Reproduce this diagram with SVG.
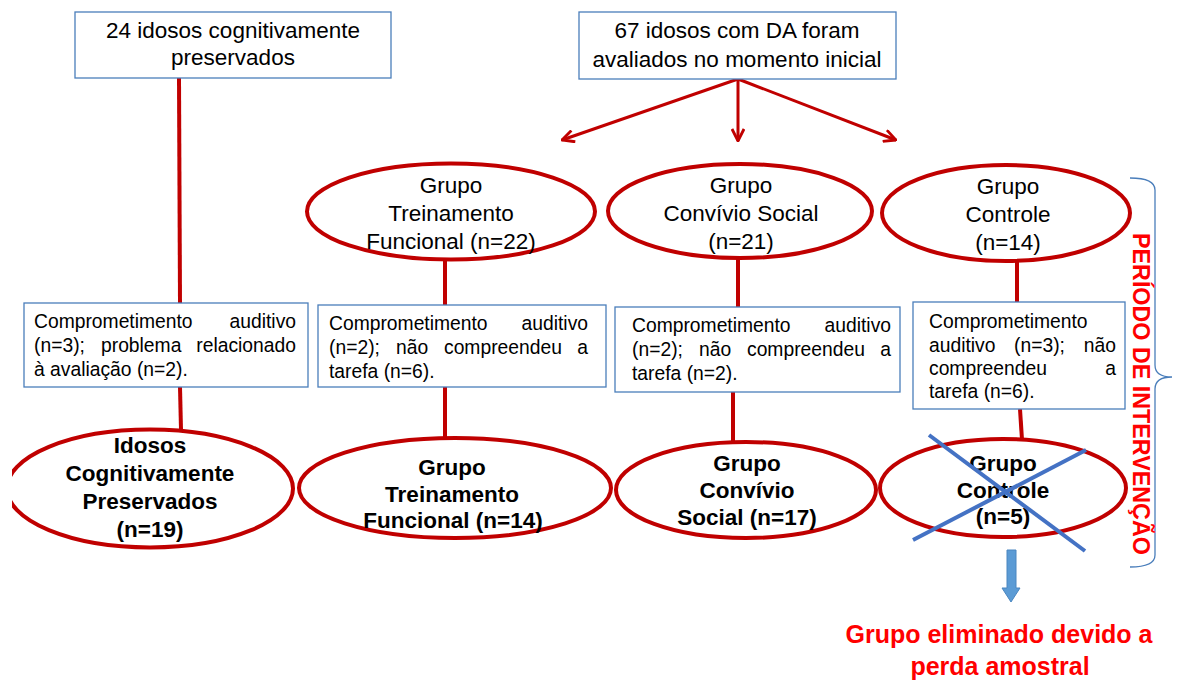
<svg xmlns="http://www.w3.org/2000/svg" width="1177" height="684" viewBox="0 0 1177 684">
<defs>
<style>
text{font-family:"Liberation Sans",Arial,sans-serif;fill:#000}
.box{fill:#fff;stroke:#4A7EBB;stroke-width:1.3}
.ell{fill:#fff;stroke:#C00000;stroke-width:4}
.con{stroke:#C00000;stroke-width:4;fill:none}
.arr{stroke:#C00000;stroke-width:3;fill:none}
.t22{font-size:22.5px}
.b22{font-size:22.5px;font-weight:bold}
.s19{font-size:19.3px}
.mid{text-anchor:middle}
.end{text-anchor:end}
.red{fill:#FF0000;font-weight:bold}
</style>
<marker id="ah" viewBox="0 0 14 14" refX="13" refY="7" markerWidth="14" markerHeight="14" markerUnits="userSpaceOnUse" orient="auto">
<path d="M1,1 L13,7 L1,13" fill="none" stroke="#C00000" stroke-width="2.8"/>
</marker>
<clipPath id="clipL"><rect x="12" y="0" width="1165" height="684"/></clipPath>
</defs>
<rect width="1177" height="684" fill="#fff"/>

<g id="connectors">
<line class="con" x1="179" y1="78" x2="180" y2="303"/>
<line class="con" x1="180" y1="387" x2="181" y2="430"/>
<line class="con" x1="445" y1="258" x2="445" y2="305"/>
<line class="con" x1="445" y1="387" x2="445" y2="438"/>
<line class="con" x1="738" y1="256" x2="738" y2="307"/>
<line class="con" x1="733" y1="392" x2="733" y2="443"/>
<line class="con" x1="1017" y1="260" x2="1017" y2="302"/>
<line class="con" x1="1020" y1="409" x2="1022" y2="440"/>
<line class="arr" x1="738" y1="79" x2="562" y2="140" marker-end="url(#ah)"/>
<line class="arr" x1="738" y1="79" x2="738" y2="141" marker-end="url(#ah)"/>
<line class="arr" x1="738" y1="79" x2="896" y2="140" marker-end="url(#ah)"/>
</g>

<g id="box-preservados">
<rect class="box" x="75" y="12" width="316" height="66"/>
<text class="t22 mid" x="233" y="38">24 idosos cognitivamente</text>
<text class="t22 mid" x="233" y="65">preservados</text>
</g>

<g id="box-da">
<rect class="box" x="579" y="12" width="317" height="67"/>
<text class="t22 mid" x="737" y="38">67 idosos com DA foram</text>
<text class="t22 mid" x="737" y="67">avaliados no momento inicial</text>
</g>

<g id="ell-treinamento">
<ellipse class="ell" cx="451" cy="211.5" rx="144" ry="48"/>
<text class="t22 mid" x="451" y="193">Grupo</text>
<text class="t22 mid" x="451" y="221">Treinamento</text>
<text class="t22 mid" x="451" y="249">Funcional (n=22)</text>
</g>

<g id="ell-convivio">
<ellipse class="ell" cx="740" cy="211" rx="132" ry="47"/>
<text class="t22 mid" x="741" y="193">Grupo</text>
<text class="t22 mid" x="741" y="221">Convívio Social</text>
<text class="t22 mid" x="741" y="249">(n=21)</text>
</g>

<g id="ell-controle">
<ellipse class="ell" cx="1006" cy="213" rx="124" ry="48"/>
<text class="t22 mid" x="1008" y="194">Grupo</text>
<text class="t22 mid" x="1008" y="222">Controle</text>
<text class="t22 mid" x="1008" y="250">(n=14)</text>
</g>

<g id="box-exc-preservados">
<rect class="box" x="24" y="303" width="284" height="84"/>
<text class="s19" x="34" y="328">Comprometimento</text>
<text class="s19 end" x="296" y="328">auditivo</text>
<text class="s19" x="34" y="352">(n=3);</text>
<text class="s19" x="101" y="352">problema</text>
<text class="s19 end" x="296" y="352">relacionado</text>
<text class="s19" x="34" y="376">à avaliação (n=2).</text>
</g>

<g id="box-exc-treinamento">
<rect class="box" x="318" y="305" width="288" height="82"/>
<text class="s19" x="329" y="330">Comprometimento</text>
<text class="s19 end" x="588" y="330">auditivo</text>
<text class="s19" x="329" y="354">(n=2);</text>
<text class="s19" x="396" y="354">não</text>
<text class="s19" x="444" y="354">compreendeu</text>
<text class="s19 end" x="588" y="354">a</text>
<text class="s19" x="329" y="378">tarefa (n=6).</text>
</g>

<g id="box-exc-convivio">
<rect class="box" x="615" y="307" width="285" height="85"/>
<text class="s19" x="632" y="332">Comprometimento</text>
<text class="s19 end" x="891" y="332">auditivo</text>
<text class="s19" x="632" y="356">(n=2);</text>
<text class="s19" x="699" y="356">não</text>
<text class="s19" x="747" y="356">compreendeu</text>
<text class="s19 end" x="891" y="356">a</text>
<text class="s19" x="632" y="380">tarefa (n=2).</text>
</g>

<g id="box-exc-controle">
<rect class="box" x="913" y="302" width="212" height="107"/>
<text class="s19" x="929" y="328">Comprometimento</text>
<text class="s19" x="929" y="352">auditivo</text>
<text class="s19" x="1014" y="352">(n=3);</text>
<text class="s19 end" x="1116" y="352">não</text>
<text class="s19" x="929" y="375">compreendeu</text>
<text class="s19 end" x="1116" y="375">a</text>
<text class="s19" x="929" y="398">tarefa (n=6).</text>
</g>

<g id="ell-final-preservados">
<ellipse class="ell" cx="150" cy="488.5" rx="143" ry="59" clip-path="url(#clipL)"/>
<text class="b22 mid" x="150" y="453">Idosos</text>
<text class="b22 mid" x="150" y="481">Cognitivamente</text>
<text class="b22 mid" x="150" y="509">Preservados</text>
<text class="b22 mid" x="150" y="537">(n=19)</text>
</g>

<g id="ell-final-treinamento">
<ellipse class="ell" cx="455" cy="488" rx="156" ry="50"/>
<text class="b22 mid" x="452" y="475">Grupo</text>
<text class="b22 mid" x="452" y="502">Treinamento</text>
<text class="b22 mid" x="453" y="528">Funcional (n=14)</text>
</g>

<g id="ell-final-convivio">
<ellipse class="ell" cx="746" cy="490" rx="130" ry="48"/>
<text class="b22 mid" x="747" y="471">Grupo</text>
<text class="b22 mid" x="747" y="498">Convívio</text>
<text class="b22 mid" x="747" y="525">Social (n=17)</text>
</g>

<g id="ell-final-controle">
<ellipse class="ell" cx="1003" cy="488" rx="123" ry="49"/>
<text class="b22 mid" x="1003" y="471">Grupo</text>
<text class="b22 mid" x="1003" y="498">Controle</text>
<text class="b22 mid" x="1003" y="524">(n=5)</text>
</g>

<g id="cross" stroke="#4472C4" stroke-width="4">
<line x1="929" y1="435" x2="1085" y2="551"/>
<line x1="1086" y1="450" x2="913" y2="540"/>
</g>

<g id="arrow-eliminado">
<path d="M1007,550 L1016,550 L1016,588 L1020,588 L1011,602 L1002,588 L1007,588 Z" fill="#5B9BD5" stroke="#4A86C0" stroke-width="1"/>
</g>

<g id="label-eliminado">
<text class="red mid" x="999" y="643" font-size="25">Grupo eliminado devido a</text>
<text class="red mid" x="1000" y="675" font-size="25">perda amostral</text>
</g>

<g id="periodo">
<path d="M1130,178 Q1155,178 1155,190 L1155,365 Q1155,377 1172,377 Q1155,377 1155,389 L1155,555 Q1155,567 1130,567" fill="none" stroke="#4A7EBB" stroke-width="1.3"/>
<text class="red" font-size="23.3" transform="translate(1133,233) rotate(90)">PERÍODO DE INTERVENÇÃO</text>
</g>
</svg>
